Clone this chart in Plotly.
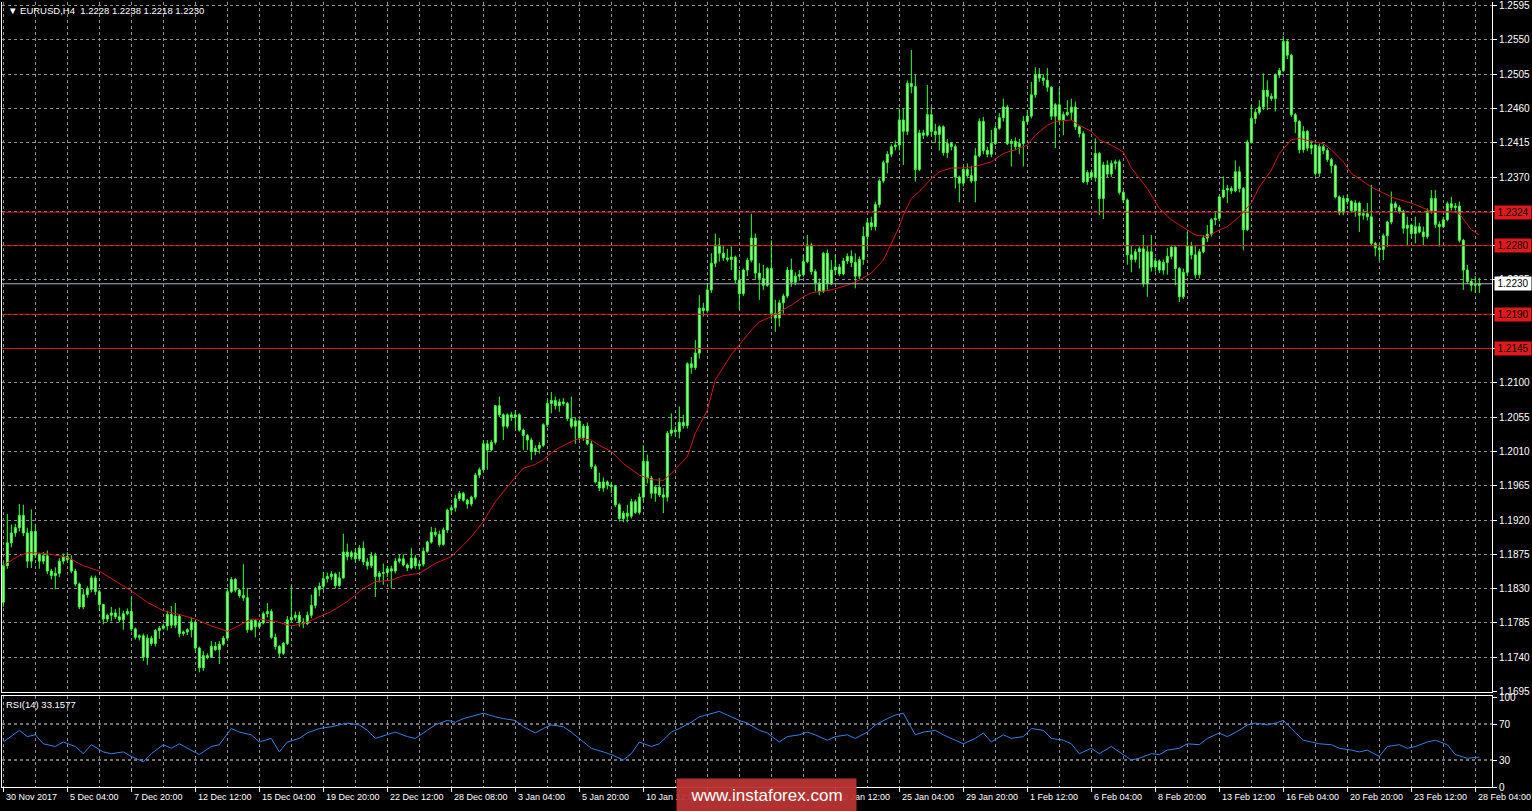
import plotly.graph_objects as go

W, H = 1532, 811

# ---------------- data (EURUSD H4) ----------------
opens = [
1.1812,1.1860,1.1890,1.1903,1.1910,1.1926,1.1903,1.1866,1.1905,1.1874,
1.1866,1.1873,1.1853,1.1847,1.1850,1.1866,1.1872,1.1868,1.1853,1.1836,
1.1806,1.1822,1.1829,1.1844,1.1826,1.1809,1.1790,1.1795,1.1798,1.1793,
1.1789,1.1797,1.1800,1.1777,1.1766,1.1768,1.1740,1.1765,1.1758,1.1775,
1.1778,1.1781,1.1796,1.1782,1.1794,1.1771,1.1773,1.1776,1.1786,1.1752,
1.1726,1.1742,1.1740,1.1754,1.1750,1.1757,1.1765,1.1826,1.1842,1.1828,
1.1821,1.1818,1.1776,1.1788,1.1780,1.1785,1.1797,1.1800,1.1766,1.1754,
1.1745,1.1758,1.1789,1.1792,1.1795,1.1786,1.1784,1.1795,1.1808,1.1829,
1.1833,1.1843,1.1846,1.1849,1.1834,1.1844,1.1878,1.1872,1.1877,1.1869,
1.1883,1.1865,1.1860,1.1873,1.1846,1.1850,1.1851,1.1856,1.1853,1.1866,
1.1869,1.1861,1.1857,1.1870,1.1860,1.1862,1.1879,1.1891,1.1904,1.1901,
1.1888,1.1907,1.1933,1.1936,1.1948,1.1955,1.1946,1.1941,1.1950,1.1979,
1.1986,1.2020,1.2012,1.2022,1.2070,1.2058,1.2043,1.2058,1.2055,1.2058,
1.2038,1.2031,1.2025,1.2010,1.2014,1.2018,1.2045,1.2073,1.2077,1.2070,
1.2075,1.2073,1.2053,1.2043,1.2050,1.2028,1.2043,1.2020,1.1990,1.1970,
1.1962,1.1970,1.1966,1.1964,1.1940,1.1922,1.1929,1.1925,1.1944,1.1930,
1.1950,1.1997,1.1975,1.1955,1.1963,1.1953,1.1950,1.2034,1.2038,1.2036,
1.2048,1.2044,1.2125,1.2120,1.2139,1.2198,1.2195,1.2222,1.2257,1.2281,
1.2270,1.2264,1.2262,1.2265,1.2235,1.2217,1.2248,1.2261,1.2290,1.2244,
1.2237,1.2228,1.2250,1.2191,1.2185,1.2205,1.2214,1.2248,1.2232,1.2240,
1.2242,1.2259,1.2281,1.2246,1.2231,1.2220,1.2270,1.2230,1.2248,1.2252,
1.2243,1.2260,1.2266,1.2258,1.2240,1.2262,1.2292,1.2310,1.2305,1.2334,
1.2365,1.2389,1.2400,1.2410,1.2412,1.2445,1.2430,1.2493,1.2489,1.2380,
1.2428,1.2425,1.2452,1.2430,1.2426,1.2436,1.2402,1.2414,1.2410,1.2370,
1.2362,1.2380,1.2372,1.2365,1.2398,1.2443,1.2405,1.2400,1.2414,1.2434,
1.2448,1.2462,1.2414,1.2417,1.2410,1.2414,1.2443,1.2450,1.2478,1.2505,
1.2500,1.2497,1.2488,1.2450,1.2465,1.2445,1.2452,1.2455,1.2462,1.2436,
1.2427,1.2364,1.2376,1.2370,1.2401,1.2342,1.2386,1.2374,1.2388,1.2390,
1.2350,1.2340,1.2268,1.2262,1.2272,1.2276,1.2230,1.2272,1.2252,1.2260,
1.2248,1.2258,1.2266,1.2278,1.2250,1.2213,1.2245,1.2280,1.2268,1.2242,
1.2272,1.2290,1.2295,1.2314,1.2316,1.2344,1.2353,1.2355,1.2352,1.2377,
1.2355,1.2301,1.2416,1.2447,1.2455,1.2462,1.2484,1.2476,1.2473,1.2504,
1.2510,1.2548,1.2530,1.2452,1.2443,1.2406,1.2430,1.2408,1.2412,1.2375,
1.2410,1.2405,1.2393,1.2385,1.2344,1.2323,1.2342,1.2338,1.2326,1.2336,
1.2320,1.2322,1.2318,1.2283,1.2277,1.2275,1.2293,1.2311,1.2335,1.2330,
1.2325,1.2303,1.2307,1.2296,1.2305,1.2298,1.2292,1.2325,1.2342,1.2308,
1.2305,1.2314,1.2335,1.2330,1.2332,1.2287,1.2248,1.2233,1.2228,1.2228,
]
highs = [
1.1864,1.1928,1.1914,1.1915,1.1941,1.1940,1.1910,1.1934,1.1915,1.1877,
1.1878,1.1880,1.1856,1.1858,1.1870,1.1876,1.1878,1.1874,1.1856,1.1838,
1.1829,1.1833,1.1847,1.1847,1.1828,1.1810,1.1797,1.1806,1.1803,1.1805,
1.1801,1.1804,1.1818,1.1779,1.1770,1.1771,1.1770,1.1768,1.1777,1.1781,
1.1784,1.1801,1.1807,1.1811,1.1796,1.1775,1.1778,1.1792,1.1788,1.1754,
1.1748,1.1745,1.1761,1.1760,1.1761,1.1768,1.1831,1.1845,1.1844,1.1830,
1.1862,1.1831,1.1790,1.1790,1.1787,1.1800,1.1811,1.1803,1.1771,1.1756,
1.1760,1.1794,1.1834,1.1800,1.1800,1.1791,1.1800,1.1822,1.1832,1.1838,
1.1852,1.1851,1.1853,1.1851,1.1852,1.1902,1.1889,1.1880,1.1882,1.1887,
1.1892,1.1870,1.1878,1.1877,1.1853,1.1863,1.1860,1.1860,1.1870,1.1875,
1.1875,1.1863,1.1883,1.1874,1.1866,1.1884,1.1893,1.1911,1.1910,1.1906,
1.1910,1.1935,1.1940,1.1953,1.1958,1.1957,1.1948,1.1952,1.1982,1.1989,
1.2025,1.2025,1.2025,1.2071,1.2082,1.2060,1.2060,1.2062,1.2064,1.2060,
1.2040,1.2033,1.2028,1.2018,1.2022,1.2047,1.2077,1.2088,1.2082,1.2079,
1.2080,1.2075,1.2082,1.2055,1.2052,1.2046,1.2048,1.2024,1.1993,1.1982,
1.1976,1.1972,1.1970,1.1966,1.1942,1.1932,1.1940,1.1948,1.1947,1.1955,
1.2018,1.2006,1.1978,1.1966,1.1975,1.1962,1.2037,1.2060,1.2043,1.2069,
1.2058,1.2127,1.2134,1.2156,1.2215,1.2205,1.2231,1.2270,1.2296,1.2290,
1.2280,1.2276,1.2279,1.2267,1.2248,1.2250,1.2264,1.2322,1.2296,1.2257,
1.2255,1.2252,1.2287,1.2209,1.2209,1.2217,1.2252,1.2263,1.2245,1.2248,
1.2268,1.2294,1.2284,1.2249,1.2237,1.2272,1.2275,1.2261,1.2268,1.2256,
1.2264,1.2270,1.2274,1.2270,1.2266,1.2305,1.2316,1.2318,1.2338,1.2368,
1.2392,1.2404,1.2413,1.2418,1.2460,1.2460,1.2497,1.2537,1.2504,1.2432,
1.2432,1.2491,1.2462,1.2440,1.2438,1.2438,1.2420,1.2416,1.2413,1.2372,
1.2384,1.2388,1.2385,1.2408,1.2447,1.2449,1.2410,1.2432,1.2438,1.2454,
1.2473,1.2465,1.2420,1.2422,1.2420,1.2450,1.2458,1.2495,1.2514,1.2513,
1.2505,1.2513,1.2489,1.2467,1.2487,1.2456,1.2471,1.2473,1.2469,1.2438,
1.2430,1.2379,1.2380,1.2421,1.2403,1.2390,1.2392,1.2392,1.2393,1.2393,
1.2352,1.2342,1.2280,1.2276,1.2279,1.2294,1.2280,1.2294,1.2264,1.2262,
1.2262,1.2277,1.2281,1.2281,1.2252,1.2250,1.2298,1.2285,1.2281,1.2276,
1.2294,1.2307,1.2316,1.2325,1.2346,1.2371,1.2360,1.2358,1.2392,1.2384,
1.2357,1.2419,1.2465,1.2460,1.2471,1.2506,1.2497,1.2480,1.2506,1.2513,
1.2555,1.2550,1.2532,1.2454,1.2445,1.2437,1.2432,1.2418,1.2414,1.2414,
1.2413,1.2408,1.2395,1.2387,1.2346,1.2346,1.2347,1.2340,1.2340,1.2338,
1.2328,1.2336,1.2360,1.2285,1.2283,1.2296,1.2313,1.2351,1.2338,1.2333,
1.2327,1.2318,1.2309,1.2318,1.2310,1.2305,1.2329,1.2353,1.2353,1.2312,
1.2318,1.2338,1.2344,1.2336,1.2338,1.2289,1.2255,1.2237,1.2240,1.2238,
]
lows = [
1.1806,1.1856,1.1884,1.1898,1.1905,1.1899,1.1857,1.1857,1.1870,1.1856,
1.1862,1.1849,1.1842,1.1829,1.1845,1.1862,1.1865,1.1850,1.1833,1.1803,
1.1803,1.1818,1.1825,1.1822,1.1801,1.1783,1.1786,1.1787,1.1790,1.1786,
1.1776,1.1795,1.1774,1.1763,1.1762,1.1735,1.1730,1.1755,1.1754,1.1764,
1.1776,1.1775,1.1778,1.1778,1.1766,1.1768,1.1769,1.1766,1.1748,1.1720,
1.1722,1.1737,1.1739,1.1748,1.1731,1.1755,1.1763,1.1824,1.1825,1.1818,
1.1814,1.1772,1.1775,1.1766,1.1778,1.1783,1.1792,1.1764,1.1750,1.1739,
1.1743,1.1756,1.1786,1.1788,1.1780,1.1778,1.1782,1.1791,1.1804,1.1820,
1.1828,1.1838,1.1841,1.1830,1.1832,1.1843,1.1867,1.1868,1.1865,1.1866,
1.1861,1.1855,1.1857,1.1819,1.1838,1.1835,1.1845,1.1830,1.1850,1.1863,
1.1859,1.1853,1.1855,1.1856,1.1855,1.1859,1.1877,1.1889,1.1898,1.1885,
1.1886,1.1903,1.1928,1.1931,1.1945,1.1944,1.1935,1.1938,1.1947,1.1975,
1.1984,1.1986,1.2010,1.2019,1.2055,1.2025,1.2040,1.2050,1.2040,1.2036,
1.2012,1.2012,1.1999,1.2005,1.2007,1.2016,1.2042,1.2060,1.2065,1.2062,
1.2070,1.2050,1.2040,1.2020,1.2025,1.2024,1.2018,1.1987,1.1968,1.1958,
1.1957,1.1960,1.1955,1.1937,1.1918,1.1917,1.1917,1.1922,1.1928,1.1927,
1.1945,1.1968,1.1948,1.1944,1.1950,1.1929,1.1944,1.2030,1.2030,1.2027,
1.2040,1.2040,1.2112,1.2117,1.2132,1.2187,1.2192,1.2218,1.2252,1.2259,
1.2260,1.2259,1.2248,1.2231,1.2196,1.2214,1.2240,1.2258,1.2235,1.2209,
1.2222,1.2226,1.2183,1.2167,1.2174,1.2191,1.2211,1.2226,1.2228,1.2234,
1.2239,1.2257,1.2242,1.2220,1.2215,1.2218,1.2222,1.2228,1.2242,1.2240,
1.2241,1.2256,1.2252,1.2224,1.2236,1.2255,1.2276,1.2300,1.2300,1.2330,
1.2362,1.2375,1.2396,1.2405,1.2405,1.2386,1.2425,1.2480,1.2364,1.2378,
1.2420,1.2423,1.2424,1.2415,1.2405,1.2398,1.2395,1.2405,1.2355,1.2337,
1.2358,1.2368,1.2362,1.2337,1.2396,1.2400,1.2396,1.2396,1.2412,1.2432,
1.2443,1.2412,1.2384,1.2405,1.2400,1.2384,1.2440,1.2447,1.2474,1.2495,
1.2490,1.2482,1.2445,1.2408,1.2441,1.2425,1.2450,1.2445,1.2432,1.2422,
1.2362,1.2360,1.2366,1.2364,1.2320,1.2315,1.2370,1.2370,1.2380,1.2347,
1.2336,1.2255,1.2245,1.2258,1.2250,1.2226,1.2213,1.2246,1.2246,1.2244,
1.2242,1.2242,1.2262,1.2228,1.2206,1.2210,1.2240,1.2262,1.2237,1.2237,
1.2270,1.2285,1.2292,1.2307,1.2312,1.2342,1.2336,1.2348,1.2350,1.2350,
1.2274,1.2299,1.2414,1.2440,1.2452,1.2458,1.2458,1.2470,1.2456,1.2500,
1.2508,1.2525,1.2449,1.2428,1.2401,1.2402,1.2404,1.2400,1.2372,1.2370,
1.2400,1.2390,1.2375,1.2342,1.2320,1.2320,1.2334,1.2323,1.2318,1.2298,
1.2314,1.2313,1.2280,1.2266,1.2261,1.2261,1.2278,1.2308,1.2326,1.2322,
1.2296,1.2281,1.2290,1.2283,1.2296,1.2281,1.2289,1.2322,1.2303,1.2279,
1.2303,1.2312,1.2326,1.2326,1.2284,1.2222,1.2230,1.2220,1.2218,1.2218,
]
closes = [
1.1860,1.1890,1.1903,1.1910,1.1926,1.1903,1.1866,1.1905,1.1874,1.1866,
1.1873,1.1853,1.1847,1.1850,1.1866,1.1872,1.1868,1.1853,1.1836,1.1806,
1.1822,1.1829,1.1844,1.1826,1.1809,1.1790,1.1795,1.1798,1.1793,1.1789,
1.1797,1.1800,1.1777,1.1766,1.1768,1.1740,1.1765,1.1758,1.1775,1.1778,
1.1781,1.1796,1.1782,1.1794,1.1771,1.1773,1.1776,1.1786,1.1752,1.1726,
1.1742,1.1740,1.1754,1.1750,1.1757,1.1765,1.1826,1.1842,1.1828,1.1821,
1.1818,1.1776,1.1788,1.1780,1.1785,1.1797,1.1800,1.1766,1.1754,1.1745,
1.1758,1.1789,1.1792,1.1795,1.1786,1.1784,1.1795,1.1808,1.1829,1.1833,
1.1843,1.1846,1.1849,1.1834,1.1844,1.1878,1.1872,1.1877,1.1869,1.1883,
1.1865,1.1860,1.1873,1.1846,1.1850,1.1851,1.1856,1.1853,1.1866,1.1869,
1.1861,1.1857,1.1870,1.1860,1.1862,1.1879,1.1891,1.1904,1.1901,1.1888,
1.1907,1.1933,1.1936,1.1948,1.1955,1.1946,1.1941,1.1950,1.1979,1.1986,
1.2020,1.2012,1.2022,1.2070,1.2058,1.2043,1.2058,1.2055,1.2058,1.2038,
1.2031,1.2025,1.2010,1.2014,1.2018,1.2045,1.2073,1.2077,1.2070,1.2075,
1.2073,1.2053,1.2043,1.2050,1.2028,1.2043,1.2020,1.1990,1.1970,1.1962,
1.1970,1.1966,1.1964,1.1940,1.1922,1.1929,1.1925,1.1944,1.1930,1.1950,
1.1997,1.1975,1.1955,1.1963,1.1953,1.1950,1.2034,1.2038,1.2036,1.2048,
1.2044,1.2125,1.2120,1.2139,1.2198,1.2195,1.2222,1.2257,1.2281,1.2270,
1.2264,1.2262,1.2265,1.2235,1.2217,1.2248,1.2261,1.2290,1.2244,1.2237,
1.2228,1.2250,1.2191,1.2185,1.2205,1.2214,1.2248,1.2232,1.2240,1.2242,
1.2259,1.2281,1.2246,1.2231,1.2220,1.2270,1.2230,1.2248,1.2252,1.2243,
1.2260,1.2266,1.2258,1.2240,1.2262,1.2292,1.2310,1.2305,1.2334,1.2365,
1.2389,1.2400,1.2410,1.2412,1.2445,1.2430,1.2493,1.2489,1.2380,1.2428,
1.2425,1.2452,1.2430,1.2426,1.2436,1.2402,1.2414,1.2410,1.2370,1.2362,
1.2380,1.2372,1.2365,1.2398,1.2443,1.2405,1.2400,1.2414,1.2434,1.2448,
1.2462,1.2414,1.2417,1.2410,1.2414,1.2443,1.2450,1.2478,1.2505,1.2500,
1.2497,1.2488,1.2450,1.2465,1.2445,1.2452,1.2455,1.2462,1.2436,1.2427,
1.2364,1.2376,1.2370,1.2401,1.2342,1.2386,1.2374,1.2388,1.2390,1.2350,
1.2340,1.2268,1.2262,1.2272,1.2276,1.2230,1.2272,1.2252,1.2260,1.2248,
1.2258,1.2266,1.2278,1.2250,1.2213,1.2245,1.2280,1.2268,1.2242,1.2272,
1.2290,1.2295,1.2314,1.2316,1.2344,1.2353,1.2355,1.2352,1.2377,1.2355,
1.2301,1.2416,1.2447,1.2455,1.2462,1.2484,1.2476,1.2473,1.2504,1.2510,
1.2548,1.2530,1.2452,1.2443,1.2406,1.2430,1.2408,1.2412,1.2375,1.2410,
1.2405,1.2393,1.2385,1.2344,1.2323,1.2342,1.2338,1.2326,1.2336,1.2320,
1.2322,1.2318,1.2283,1.2277,1.2275,1.2293,1.2311,1.2335,1.2330,1.2325,
1.2303,1.2307,1.2296,1.2305,1.2298,1.2292,1.2325,1.2342,1.2308,1.2305,
1.2314,1.2335,1.2330,1.2332,1.2287,1.2248,1.2233,1.2228,1.2229,1.2230,
]

# moving average (red line) read at sampled bars
ma_idx = [0,4,6,8,12,16,20,24,28,32,36,40,44,48,52,56,58,60,62,64,68,72,74,
          76,82,86,90,93,97,100,104,108,112,115,117,120,123,127,130,133,135,138,142,144,147,149,
          152,155,159,162,165,167,171,173,176,178,182,184,187,189,192,194,197,200,202,207,211,214,217,220,222,224,
          225,227,229,232,234,237,240,243,247,250,253,256,258,261,263,267,269,272,274,277,280,282,286,289,292,296,
          298,301,303,306,309,312,314,317,319,322,324,327,330,332,335,337,340,342,345,348,352,355,357,360,362,364,366,367,369]
ma_val = [1.1861,1.1873,1.1877,1.1877,1.1875,1.1871,1.1860,1.1853,1.1840,1.1827,1.1812,1.1801,1.1796,1.1790,1.1781,1.1774,1.1779,1.1785,1.1790,1.1790,1.1787,1.1781,1.1783,
          1.1786,1.1800,1.1813,1.1830,1.1839,1.1841,1.1847,1.1850,1.1863,1.1872,1.1887,1.1898,1.1918,1.1944,1.1970,1.1988,1.1993,1.1999,1.2012,1.2023,1.2027,1.2025,1.2018,
          1.2010,1.1994,1.1979,1.1973,1.1972,1.1981,1.2003,1.2034,1.2064,1.2104,1.2137,1.2150,1.2169,1.2180,1.2187,1.2193,1.2202,1.2213,1.2218,1.2222,1.2228,1.2235,1.2244,1.2261,1.2283,1.2305,
          1.2320,1.2342,1.2351,1.2368,1.2377,1.2382,1.2382,1.2384,1.2390,1.2401,1.2406,1.2412,1.2425,1.2438,1.2443,1.2445,1.2438,1.2430,1.2419,1.2412,1.2403,1.2382,1.2355,1.2329,1.2314,1.2301,
          1.2294,1.2292,1.2298,1.2305,1.2318,1.2336,1.2357,1.2379,1.2401,1.2419,1.2421,1.2417,1.2414,1.2406,1.2390,1.2375,1.2364,1.2357,1.2349,1.2342,1.2336,1.2329,1.2325,1.2325,1.2325,1.2322,1.2309,1.2301,1.2294]

# RSI(14) read at sampled bars
rsi_idx = [0,4,6,8,10,13,15,18,20,22,25,27,30,32,35,37,40,42,44,47,49,52,54,57,59,62,64,67,69,71,
           74,76,79,82,86,89,91,93,96,98,101,103,106,108,111,113,115,118,120,123,125,128,130,133,135,137,140,142,145,147,
           150,152,155,157,159,162,164,167,169,172,174,177,179,181,184,186,189,191,194,196,199,201,203,206,208,211,213,216,218,221,
           223,225,228,230,233,235,238,240,243,245,247,250,252,255,257,260,262,265,267,269,272,274,277,279,282,284,287,289,291,294,
           296,299,301,304,306,309,311,313,316,318,320,322,325,327,329,332,334,337,339,341,344,346,349,351,353,356,358,361,363,366,369]
rsi_val = [50,63,56,58,48,45,50,45,37,47,39,37,39,34,28,37,47,43,48,41,36,45,47,65,61,58,50,54,39,50,
           54,60,65,67,71,69,63,54,58,61,56,54,63,69,74,72,76,80,82,78,76,74,67,60,65,69,67,61,50,43,
           39,36,30,37,50,45,48,61,65,72,78,82,84,80,74,71,63,60,50,56,58,61,58,52,56,58,54,61,69,76,
           80,82,58,61,63,58,52,48,54,60,50,58,54,56,65,63,54,52,48,37,43,37,45,39,30,32,37,36,41,43,
           48,47,54,60,56,63,69,71,69,71,74,65,52,50,48,47,43,41,39,41,34,45,47,43,45,50,52,47,36,32,33.1577]

price_ticks = [1.1695,1.1740,1.1785,1.1830,1.1875,1.1920,1.1965,1.2010,1.2055,1.2100,1.2145,
               1.2190,1.2235,1.2280,1.2325,1.2370,1.2415,1.2460,1.2505,1.2550,1.2595]
rsi_ticks = [0, 30, 70, 100]

time_label_idx = [0,16,32,48,64,80,96,112,128,144,160,176,192,208,224,240,256,272,288,304,320,336,352,368]
time_labels = ["30 Nov 2017","5 Dec 04:00","7 Dec 20:00","12 Dec 12:00","15 Dec 04:00","19 Dec 20:00",
               "22 Dec 12:00","28 Dec 08:00","3 Jan 04:00","5 Jan 20:00","10 Jan 12:00","15 Jan 04:00",
               "17 Jan 20:00","22 Jan 12:00","25 Jan 04:00","29 Jan 20:00","1 Feb 12:00","6 Feb 04:00",
               "8 Feb 20:00","13 Feb 12:00","16 Feb 04:00","20 Feb 20:00","23 Feb 12:00","28 Feb 04:00"]

level_prices = [1.2324, 1.2280, 1.2190, 1.2145]
last_price = 1.2230
header_ohlc = [1.2228, 1.2238, 1.2218, 1.2230]
rsi_last = 33.1577

# ---------------- layout helpers ----------------
def px_x(p):
    return p / W

def px_y(p):
    return (H - p) / H

X0, X1 = px_x(2), px_x(1492)
MAIN_DOM = [px_y(692), px_y(2)]
RSI_DOM = [px_y(787), px_y(695.5)]
XRANGE = [-0.325, 372.175]
YRANGE = [1.16943, 1.25998]

FONT = "Liberation Sans"
GRID = "#8c8c8c"
CANDLE_LINE = "#3cff3c"
CANDLE_FILL = "#a6f7a6"

bars = list(range(len(closes)))

fig = go.Figure()
fig.add_trace(go.Candlestick(
    x=bars, open=opens, high=highs, low=lows, close=closes,
    xaxis="x", yaxis="y", whiskerwidth=0, hoverinfo="skip", showlegend=False,
    increasing=dict(line=dict(color=CANDLE_LINE, width=1), fillcolor=CANDLE_FILL),
    decreasing=dict(line=dict(color=CANDLE_LINE, width=1), fillcolor=CANDLE_FILL),
))
fig.add_trace(go.Scatter(x=ma_idx, y=ma_val, mode="lines", xaxis="x", yaxis="y",
                         line=dict(color="#d41414", width=1), hoverinfo="skip", showlegend=False))
fig.add_trace(go.Scatter(x=rsi_idx, y=rsi_val, mode="lines", xaxis="x2", yaxis="y2",
                         line=dict(color="#3a7fe0", width=1), hoverinfo="skip", showlegend=False))

shapes = []
for p in level_prices:
    shapes.append(dict(type="line", xref="x domain", yref="y", x0=0, x1=1, y0=p, y1=p,
                       line=dict(color="#d81818", width=1), layer="above"))
shapes.append(dict(type="line", xref="x domain", yref="y", x0=0, x1=1, y0=last_price, y1=last_price,
                   line=dict(color="#aeb4c0", width=1), layer="above"))
for lv in (30, 70):
    shapes.append(dict(type="line", xref="x2 domain", yref="y2", x0=0, x1=1, y0=lv, y1=lv,
                       line=dict(color="#e6e6e6", width=1, dash="dot"), layer="below"))

annotations = []
for i, t in zip(time_label_idx, time_labels):
    annotations.append(dict(x=i, xref="x2", y=px_y(797), yref="paper", text=t, showarrow=False,
                            xanchor="left", yanchor="middle", xshift=1,
                            font=dict(family=FONT, size=9, color="#ffffff")))
for p in level_prices:
    annotations.append(dict(x=px_x(1494), xref="paper", y=p, yref="y", text=f"{p:.4f}", showarrow=False,
                            xanchor="left", yanchor="middle", bgcolor="#e01a1a", borderpad=1,
                            width=34, height=11, font=dict(family=FONT, size=10, color="#000000")))
annotations.append(dict(x=px_x(1494), xref="paper", y=last_price, yref="y", text=f"{last_price:.4f}",
                        showarrow=False, xanchor="left", yanchor="middle", bgcolor="#ffffff", borderpad=1,
                        width=34, height=11, font=dict(family=FONT, size=10, color="#000000")))
header = "\u25bc EURUSD,H4\u00a0\u00a0" + " ".join(f"{v:.4f}" for v in header_ohlc)
annotations.append(dict(x=px_x(6), xref="paper", y=px_y(10), yref="paper", text=header, showarrow=False,
                        xanchor="left", yanchor="middle", font=dict(family=FONT, size=9.5, color="#ffffff")))
annotations.append(dict(x=px_x(4), xref="paper", y=px_y(704), yref="paper", text=f"RSI(14) {rsi_last:.4f}",
                        showarrow=False, xanchor="left", yanchor="middle",
                        font=dict(family=FONT, size=9.5, color="#ffffff")))
annotations.append(dict(x=px_x(766.5), xref="paper", y=px_y(795.5), yref="paper", text="www.instaforex.com",
                        showarrow=False, xanchor="center", yanchor="middle", width=177, height=31,
                        bgcolor="rgba(186,52,52,0.95)", font=dict(family=FONT, size=17, color="#ffffff")))

axis_common = dict(showgrid=True, gridcolor=GRID, griddash="3px,3px", gridwidth=1, zeroline=False,
                   fixedrange=True, automargin=False, linecolor="#ffffff", linewidth=1)

fig.update_layout(
    width=W, height=H, margin=dict(l=0, r=0, t=0, b=0),
    paper_bgcolor="#000000", plot_bgcolor="#000000", showlegend=False,
    font=dict(family=FONT, size=10, color="#ffffff"),
    xaxis=dict(domain=[X0, X1], range=XRANGE, anchor="y", tickmode="linear", tick0=0, dtick=8,
               showticklabels=False, ticks="", showline=True, rangeslider=dict(visible=False), **axis_common),
    yaxis=dict(domain=MAIN_DOM, range=YRANGE, anchor="x", side="right", tickmode="array",
               tickvals=price_ticks, ticktext=[f"{v:.4f}" for v in price_ticks],
               ticks="outside", ticklen=4, tickcolor="#ffffff", showline=True, mirror=True,
               tickfont=dict(family=FONT, size=10, color="#ffffff"), **axis_common),
    xaxis2=dict(domain=[X0, X1], range=XRANGE, anchor="y2", tickmode="array", tickvals=time_label_idx,
                showticklabels=False, ticks="outside", ticklen=4, tickcolor="#ffffff",
                showline=True, mirror=True,
                minor=dict(tickmode="linear", tick0=0, dtick=8, showgrid=True, gridcolor=GRID,
                           griddash="3px,3px", ticks=""),
                **axis_common),
    yaxis2=dict(domain=RSI_DOM, range=[0, 101.7], anchor="x2", side="right", tickmode="array",
                tickvals=rsi_ticks, ticktext=[str(v) for v in rsi_ticks], ticks="outside", ticklen=4,
                tickcolor="#ffffff", showline=True, mirror=True,
                tickfont=dict(family=FONT, size=10, color="#ffffff"),
                **{k: v for k, v in axis_common.items() if k != "showgrid"}, showgrid=False),
    shapes=shapes, annotations=annotations,
)

fig.write_html("out.html", config={"displayModeBar": False},
               post_script="document.body.style.margin='0';document.body.style.overflow='hidden';")
